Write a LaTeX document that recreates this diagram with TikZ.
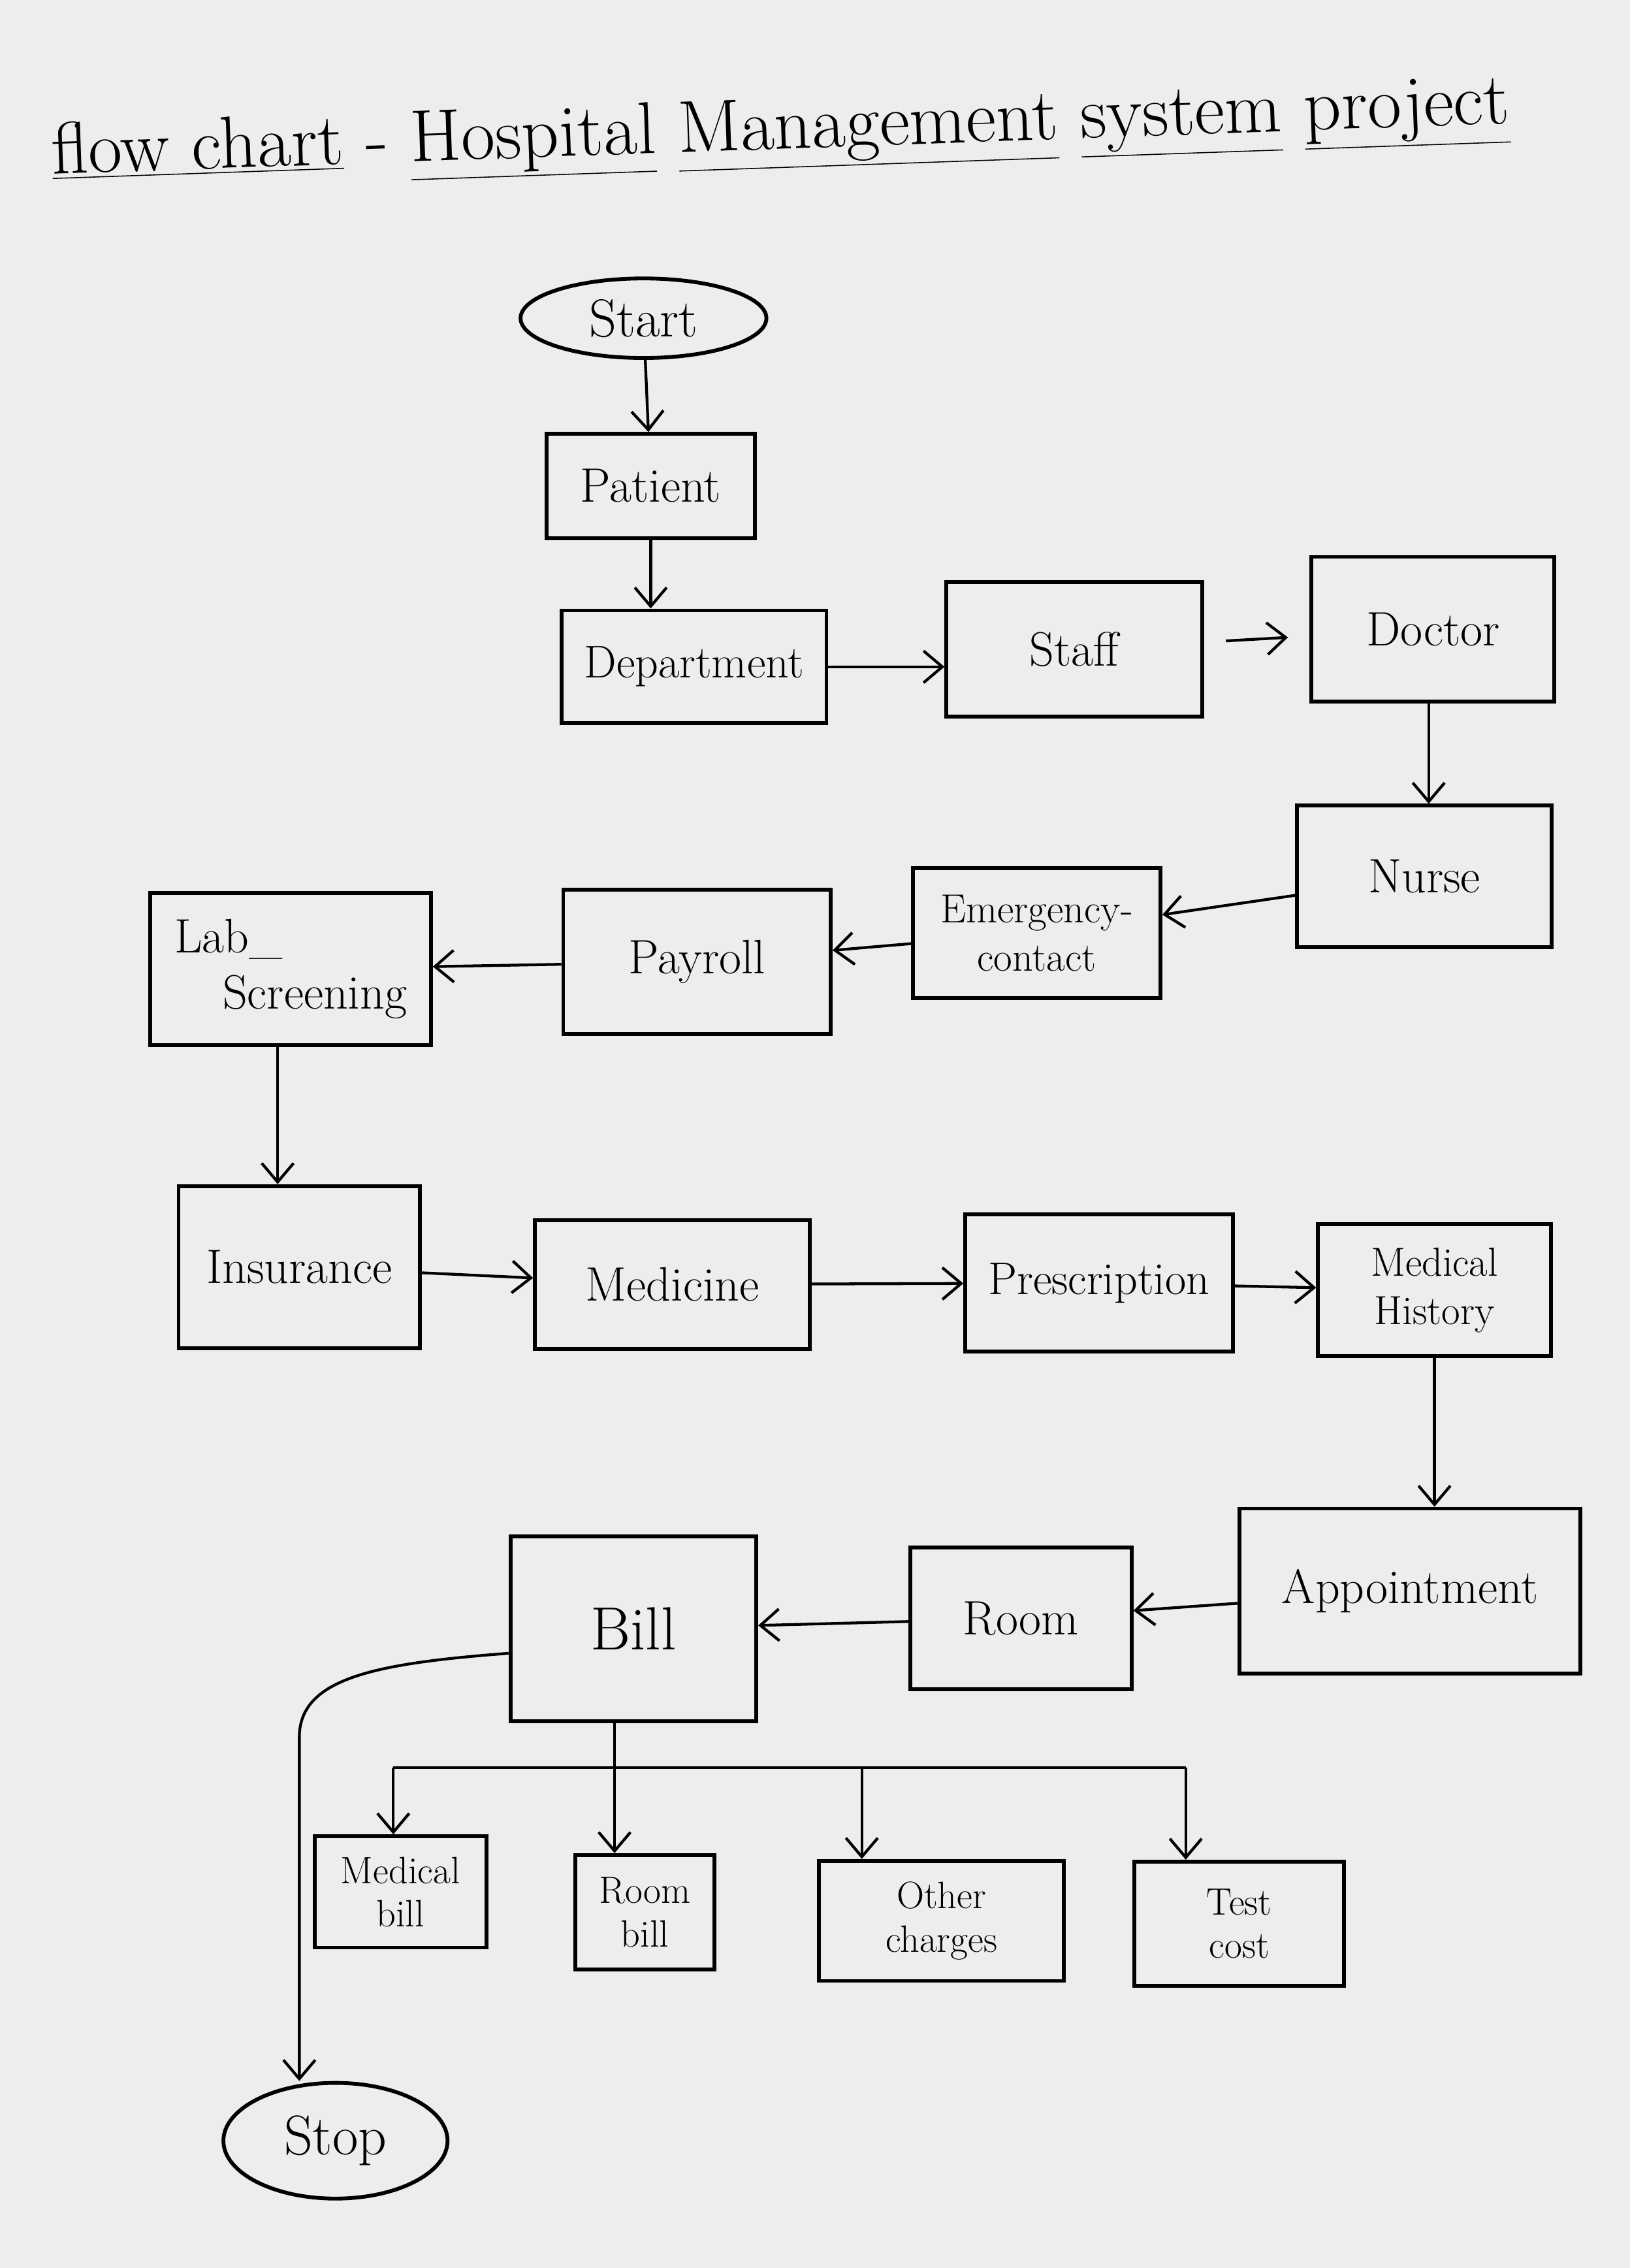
\documentclass[tikz,border=0pt]{standalone}
\usetikzlibrary{positioning,shapes.geometric,calc,arrows.meta}
\definecolor{paper}{RGB}{236,238,237}

\begin{document}
\begin{tikzpicture}[x=0.2mm,y=-0.2mm,
		box/.style={draw,line width=1.5pt,inner sep=1pt,align=center,font=\fontsize{19}{22}\selectfont},
		small/.style={box,font=\fontsize{15}{17}\selectfont},
		oval/.style={draw,ellipse,line width=1.5pt,inner sep=0pt,font=\fontsize{21}{24}\selectfont},
		arr/.style={-{Straight Barb[length=2.6mm,width=4.4mm]},line width=1.1pt}]
		\fill[paper] (0,0) rectangle (1127,1568);
		\useasboundingbox (0,0) rectangle (1127,1568);
		% judul
		\node[font=\fontsize{29}{33}\selectfont,rotate=2] (title) at (540,92)
			{\underline{flow chart} - \underline{Hospital} \underline{Management} \underline{system} \underline{project}};
		% baris atas
		\node[oval,minimum width=34mm,minimum height=11mm] (start) at (445,220) {Start};
		\node[box,minimum width=28.8mm,minimum height=14.4mm] (patient) at (450,336) {Patient};
		\node[box,minimum width=36.6mm,minimum height=15.6mm,font=\fontsize{18}{21}\selectfont] (dept) at (480,461) {Department};
		\node[box,minimum width=35.4mm,minimum height=18.6mm] (staff) at (743,449) {Staff};
		\node[box,minimum width=33.6mm,minimum height=20mm] (doctor) at (991,435) {Doctor};
		\node[box,minimum width=35.2mm,minimum height=19.6mm] (nurse) at (985,606) {Nurse};
		\node[box,minimum width=34.2mm,minimum height=18mm,font=\fontsize{16}{19}\selectfont] (emerg) at (717,645) {Emergency-\\contact};
		\node[box,minimum width=37mm,minimum height=20mm] (payroll) at (482,665) {Payroll};
		\node[box,minimum width=38.8mm,minimum height=21mm,align=left] (lab) at (201,670) {Lab\_\\\hspace{1em}Screening};
		% baris tengah
		\node[box,minimum width=33.4mm,minimum height=22.4mm] (ins) at (207,876) {Insurance};
		\node[box,minimum width=38mm,minimum height=17.8mm] (med) at (465,888) {Medicine};
		\node[box,minimum width=37mm,minimum height=19mm,font=\fontsize{18}{21}\selectfont] (presc) at (760,887) {Prescription};
		\node[box,minimum width=32.2mm,minimum height=18.2mm,font=\fontsize{16}{19}\selectfont] (hist) at (992,892) {Medical\\History};
		\node[box,minimum width=47.2mm,minimum height=22.8mm] (appt) at (975,1100) {Appointment};
		\node[box,minimum width=30.6mm,minimum height=19.6mm] (room) at (706,1119) {Room};
		\node[box,minimum width=34mm,minimum height=25.6mm,font=\fontsize{24}{28}\selectfont] (bill) at (438,1126) {Bill};
		% rincian tagihan
		\node[small,minimum width=23.8mm,minimum height=15.4mm] (mbill) at (277,1308) {Medical\\bill};
		\node[small,minimum width=19.2mm,minimum height=15.8mm] (rbill) at (446,1322) {Room\\bill};
		\node[small,minimum width=33.8mm,minimum height=16.6mm] (other) at (651,1328) {Other\\charges};
		\node[small,minimum width=29mm,minimum height=17.2mm] (test) at (857,1330) {Test\\cost};
		\node[oval,minimum width=31mm,minimum height=16mm,font=\fontsize{22}{26}\selectfont] (stop) at (232,1480) {Stop};
		% panah
		\draw[arr] (start) -- (patient);
		\draw[arr] (patient) -- (patient |- dept.north);
		\draw[arr] (dept.east) -- (dept.east -| staff.west);
		\draw[arr,shorten <=3mm,shorten >=3mm] (staff) -- (doctor);
		\draw[arr] (doctor.south -| 988,0) -- (988,0 |- nurse.north);
		\draw[arr] (nurse) -- (emerg);
		\draw[arr] (emerg) -- (payroll);
		\draw[arr] (payroll) -- (lab);
		\draw[arr] (lab.south -| 192,0) -- (192,0 |- ins.north);
		\draw[arr] (ins) -- (med);
		\draw[arr] (med) -- (presc);
		\draw[arr] (presc) -- (hist);
		\draw[arr] (hist) -- (hist |- appt.north);
		\draw[arr] (appt) -- (room);
		\draw[arr] (room) -- (bill);
		\coordinate (split) at (425,1222);
		\coordinate (bl) at (272,1222);
		\coordinate (bo) at (596,1222);
		\coordinate (bt) at (820,1222);
		\draw[line width=1.1pt] (bill.south -| split) -- (split);
		\draw[line width=1.1pt] (bl) -- (bt);
		\draw[arr] (split) -- (split |- rbill.north);
		\draw[arr] (bl) -- (bl |- mbill.north);
		\draw[arr] (bo) -- (bo |- other.north);
		\draw[arr] (bt) -- (bt |- test.north);
		\coordinate (bend) at (207,1200);
		\draw[arr] ($(bill.west)+(0,17)$) .. controls (260,1150) and (208,1160) .. (bend) -- (bend |- stop.north);
\end{tikzpicture}
\end{document}
